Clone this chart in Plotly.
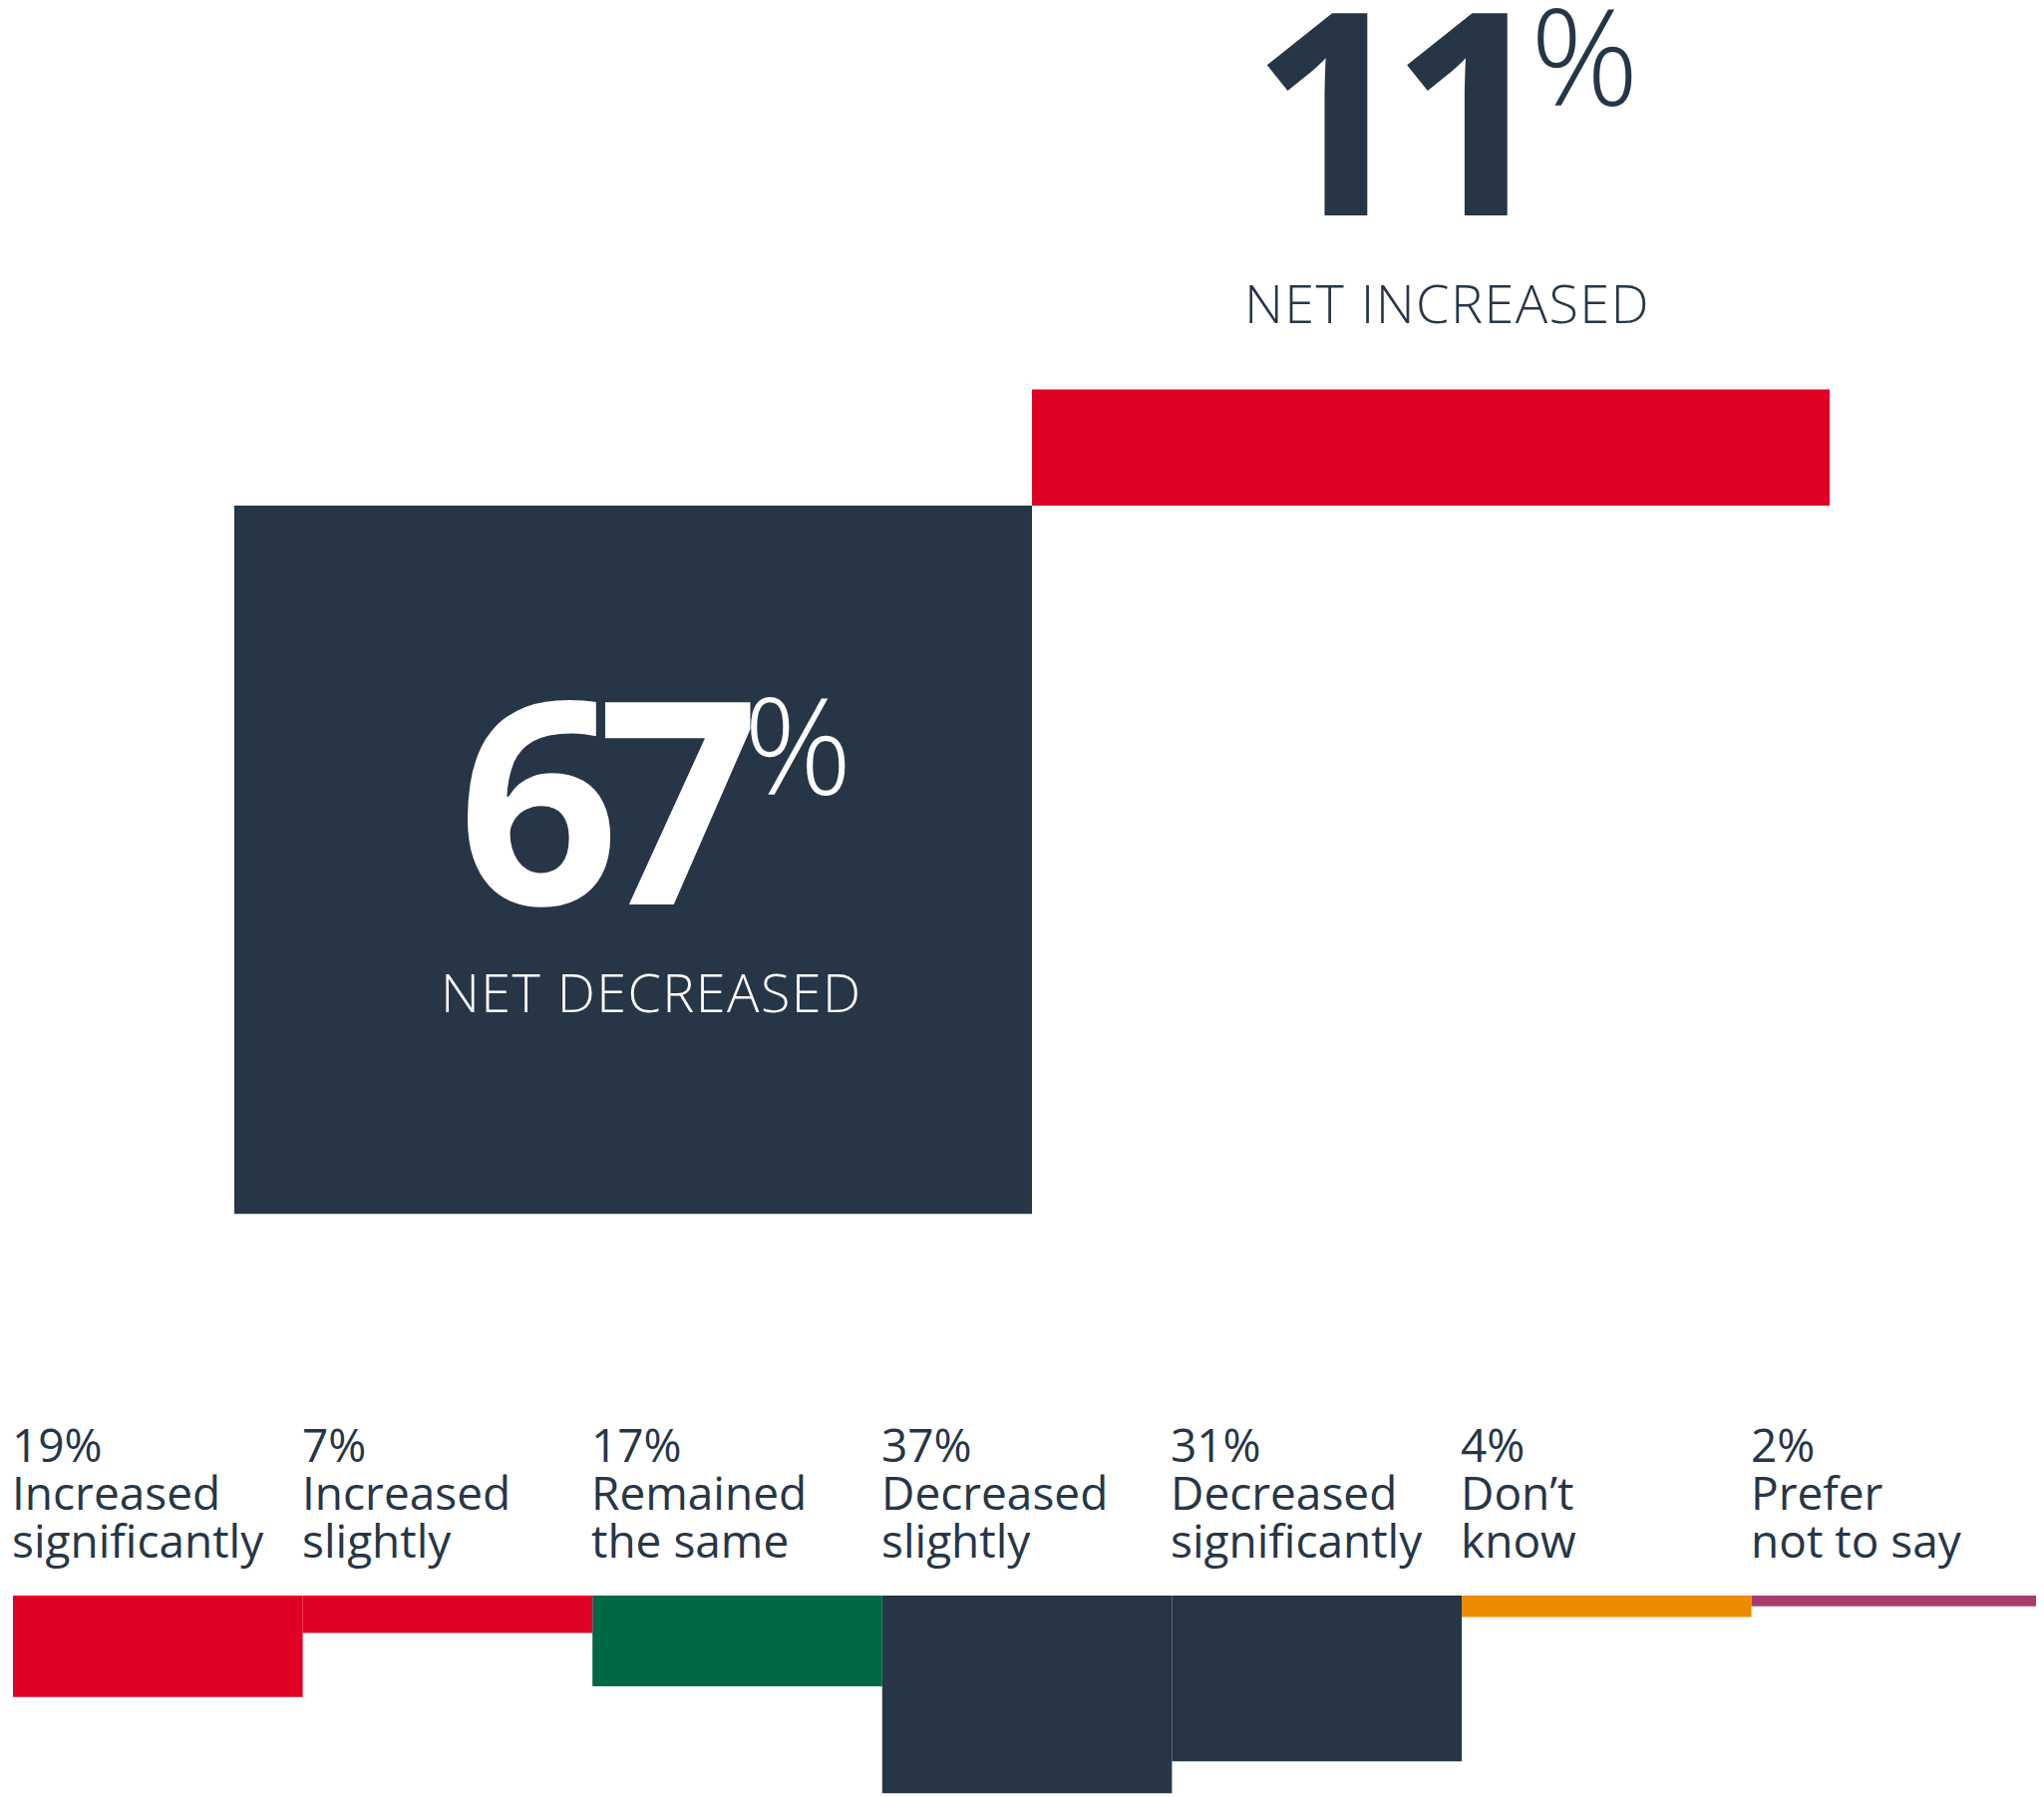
import plotly.graph_objects as go

W, H = 2050, 1802

# ---- data ----
net_labels = ["NET DECREASED", "NET INCREASED"]
net_values = [67, 11]
net_direction = [-1, 1]
net_colors = ["#263647", "#E00025"]
net_text_colors = ["#FFFFFF", "#263647"]

categories = ["Increased significantly", "Increased slightly", "Remained the same",
              "Decreased slightly", "Decreased significantly", "Don’t know", "Prefer not to say"]
label_line1 = ["Increased", "Increased", "Remained", "Decreased", "Decreased", "Don’t", "Prefer"]
label_line2 = ["significantly", "slightly", "the same", "slightly", "significantly", "know", "not to say"]
values = [19, 7, 17, 37, 31, 4, 2]
bar_colors = ["#E00025", "#E00025", "#006847", "#263647", "#263647", "#EC8A00", "#A63C6E"]

NAVY = "#263647"
FONT = "Open Sans"
OFF = 8  # page body margin


def px(x):
    return (x - OFF) / W


def py(y):
    return 1 - (y - OFF) / H


fig = go.Figure()

# top: net bars
fig.add_trace(go.Bar(
    x=list(range(len(net_values))),
    y=[d * v for d, v in zip(net_direction, net_values)],
    width=1, marker=dict(color=net_colors, line=dict(width=0)),
    xaxis="x", yaxis="y", hoverinfo="skip"))

# bottom: breakdown bars (hanging down)
fig.add_trace(go.Bar(
    x=list(range(len(values))), y=values,
    width=1, marker=dict(color=bar_colors, line=dict(width=0)),
    xaxis="x2", yaxis="y2", hoverinfo="skip"))

# layout geometry (figure pixels)
top_scale = 10.6      # px per %
top_base = 507 - OFF
top_bottom = 1300 - OFF
bot_scale = 5.36
bot_base = 1600 - OFF
bot_top = 1400 - OFF
x1_left, x1_unit = 235 - OFF, 800
x2_left, x2_unit = 13 - OFF, 290.6

ax = dict(visible=False, fixedrange=True, showgrid=False, zeroline=False)
fig.update_layout(
    width=W, height=H, margin=dict(l=0, r=0, t=0, b=0),
    paper_bgcolor="white", plot_bgcolor="white", showlegend=False,
    xaxis=dict(ax, domain=[0, 1], anchor="y",
               range=[-0.5 - x1_left / x1_unit, -0.5 + (W - x1_left) / x1_unit]),
    yaxis=dict(ax, domain=[1 - top_bottom / H, 1], anchor="x",
               range=[-(top_bottom - top_base) / top_scale, top_base / top_scale]),
    xaxis2=dict(ax, domain=[0, 1], anchor="y2",
                range=[-0.5 - x2_left / x2_unit, -0.5 + (W - x2_left) / x2_unit]),
    yaxis2=dict(ax, domain=[0, 1 - bot_top / H], anchor="x2",
                range=[(H - bot_base) / bot_scale, -(bot_base - bot_top) / bot_scale]),
)

ann = []
big = [
    # number, box left x, box mid y, digit tracking (px), label center x, label mid y
    (net_values[1], 1252, 106, [-22, -22], 1451, 303, net_text_colors[1], net_labels[1]),
    (net_values[0], 457, 797, [-22, -16], 653, 994, net_text_colors[0], net_labels[0]),
]
for num, nl, ny, track, lc, ly, col, lab in big:
    digits = "".join(f'<span style="letter-spacing:{t}px">{d}</span>'
                     for d, t in zip(str(num), track))
    txt = (digits + '<sup><span style="font-size:135px;font-weight:300;'
           'baseline-shift:-9px">%</span></sup>')
    ann.append(dict(text=txt, xref="paper", yref="paper", x=px(nl), y=py(ny),
                    xanchor="left", yanchor="middle", showarrow=False,
                    font=dict(family=FONT, size=284, color=col, weight=700)))
    ann.append(dict(text=f'<span style="letter-spacing:1.4px">{lab}</span>',
                    xref="paper", yref="paper", x=px(lc), y=py(ly),
                    xanchor="center", yanchor="middle", showarrow=False,
                    font=dict(family=FONT, size=54, color=col, weight=300)))

# bottom labels: 46px glyphs on a 48px line pitch
LABEL_SIZE = 46
PITCH = 48
for i, v in enumerate(values):
    lines = [f"{v}%", label_line1[i], label_line2[i]]
    txt = "<br>".join(f'<span style="font-size:{LABEL_SIZE}px">{t}</span>' for t in lines)
    ann.append(dict(text=txt, xref="x2", yref="paper", x=i - 0.5 - 3 / x2_unit, y=py(1496),
                    xanchor="left", yanchor="middle", align="left", showarrow=False,
                    font=dict(family=FONT, size=PITCH / 1.3, color=NAVY, weight=400)))

fig.update_layout(annotations=ann)
fig.write_html("out.html")
